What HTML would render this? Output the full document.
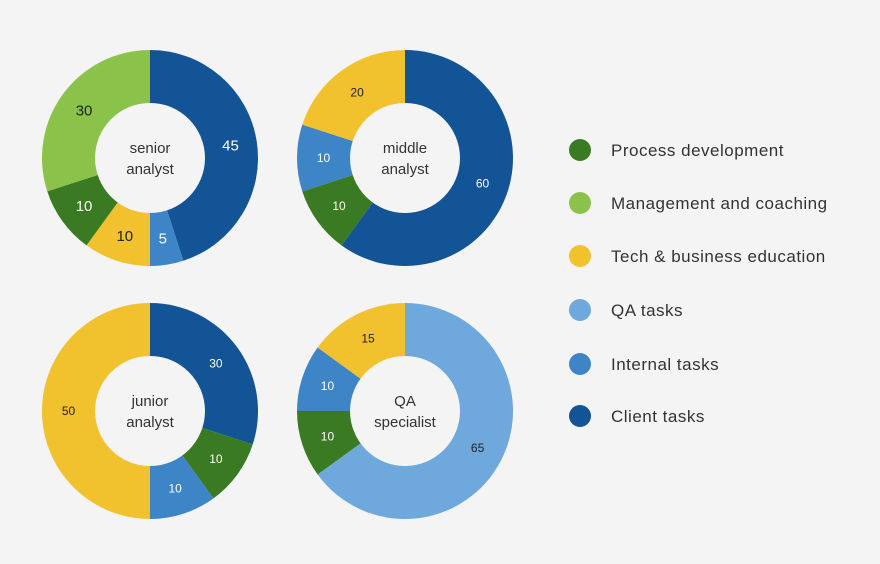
<!DOCTYPE html>
<html><head><meta charset="utf-8"><style>
body{margin:0;background:#f4f4f4;font-family:"Liberation Sans",sans-serif;}
svg{display:block}
</style></head><body>
<svg width="880" height="564">
<rect width="880" height="564" fill="#f4f4f4"/>
<g id="charts"></g>
<g id="legend"></g>
</svg>
<script>
const categories=["Process development","Management and coaching","Tech & business education","QA tasks","Internal tasks","Client tasks"];
const colors=["#3a7a22","#8bc34a","#f2c12e","#6fa8dc","#3d85c6","#135497"];
const chartTitles=[["senior","analyst"],["middle","analyst"],["junior","analyst"],["QA","specialist"]];
// slice order clockwise from top: category index, value
const seniorCats=[5,4,2,0,1];const seniorVals=[45,5,10,10,30];
const middleCats=[5,0,4,2];const middleVals=[60,10,10,20];
const juniorCats=[5,0,4,2];const juniorVals=[30,10,10,50];
const qaCats=[3,0,4,2];const qaVals=[65,10,10,15];
const NS="http://www.w3.org/2000/svg";
const charts=[{c:seniorCats,v:seniorVals,x:150,y:158,fs:15},{c:middleCats,v:middleVals,x:405,y:158,fs:12},{c:juniorCats,v:juniorVals,x:150,y:411,fs:12},{c:qaCats,v:qaVals,x:405,y:411,fs:12}];
const R=108,r=55;
const g=document.getElementById('charts');
function pt(cx,cy,rad,a){return [cx+rad*Math.sin(a),cy-rad*Math.cos(a)];}
charts.forEach((ch,ci)=>{
  const tot=ch.v.reduce((a,b)=>a+b,0);let acc=0;
  ch.v.forEach((val,i)=>{
    const a0=acc/tot*2*Math.PI;acc+=val;const a1=acc/tot*2*Math.PI;
    const [x0,y0]=pt(ch.x,ch.y,R,a0),[x1,y1]=pt(ch.x,ch.y,R,a1);
    const large=(a1-a0)>Math.PI?1:0;
    const p=document.createElementNS(NS,'path');
    p.setAttribute('d',`M${ch.x},${ch.y}L${x0},${y0}A${R},${R} 0 ${large} 1 ${x1},${y1}Z`);
    p.setAttribute('fill',colors[ch.c[i]]);
    
    
    g.appendChild(p);
    const [lx,ly]=pt(ch.x,ch.y,(R+r)/2,(a0+a1)/2);
    const t=document.createElementNS(NS,'text');
    t.setAttribute('x',lx);t.setAttribute('y',ly+ch.fs*0.35);t.setAttribute('text-anchor','middle');
    t.setAttribute('font-size',ch.fs);
    const dark=[1,2,3].includes(ch.c[i]);
    t.setAttribute('fill',dark?'#222':'#fff');
    
    
    t.textContent=val;g.appendChild(t);
  });
  const c=document.createElementNS(NS,'circle');
  c.setAttribute('cx',ch.x);c.setAttribute('cy',ch.y);c.setAttribute('r',r);c.setAttribute('fill','#f4f4f4');
  
  
  g.appendChild(c);
  chartTitles[ci].forEach((ln,k)=>{
    const t=document.createElementNS(NS,'text');
    t.setAttribute('x',ch.x);t.setAttribute('y',ch.y-5+k*21);t.setAttribute('text-anchor','middle');
    t.setAttribute('font-size',15);t.setAttribute('fill','#333');
    
    
    t.textContent=ln;g.appendChild(t);
  });
});
const lg=document.getElementById('legend');
const ly=[150,203,256,310,364,416];
categories.forEach((cat,i)=>{
  const c=document.createElementNS(NS,'circle');
  c.setAttribute('cx',580);c.setAttribute('cy',ly[i]);c.setAttribute('r',11);c.setAttribute('fill',colors[i]);
  
  
  lg.appendChild(c);
  const t=document.createElementNS(NS,'text');
  t.setAttribute('x',611);t.setAttribute('y',ly[i]+6);t.setAttribute('font-size',17);t.setAttribute('fill','#333');
  t.setAttribute('letter-spacing','0.5');
  
  
  t.textContent=cat;lg.appendChild(t);
});
</script>
</body></html>
